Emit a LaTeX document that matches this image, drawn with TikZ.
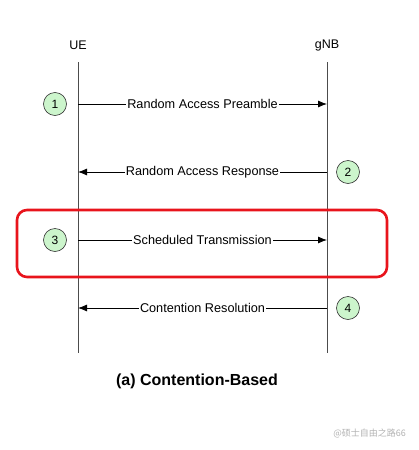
\documentclass[tikz,border=0pt]{standalone}
\usepackage{fontspec}
\setmainfont{Liberation Sans}
\newfontfamily\cjk{Noto Sans CJK SC}
\usetikzlibrary{arrows.meta}
\definecolor{stepgreen}{HTML}{CCF5CC}
\definecolor{boxred}{HTML}{E8141C}
\tikzset{
  lifeline/.style={draw=black!70, line width=0.9pt},
  actor/.style={font=\fontsize{12.5}{14}\selectfont, inner sep=0pt},
  msg/.style={draw=black, line width=0.8pt, -{Latex[length=9pt,width=7pt]}},
  msglabel/.style={fill=white, inner sep=1pt, font=\fontsize{12.7}{14}\selectfont},
  stepnum/.style={circle, draw=black!80, line width=0.6pt, fill=stepgreen, minimum size=23pt, inner sep=0pt, font=\fontsize{12}{14}\selectfont},
}
\begin{document}
\begin{tikzpicture}[x=1pt,y=-1pt]
\useasboundingbox (0,0) rectangle (418,450);
% actors
\node[actor] (ue) at (78,45) {UE};
\node[actor] (gnb) at (327,45) {gNB};
\coordinate (ueTop) at (78,62);
\coordinate (ueBot) at (78,353);
\coordinate (gnbTop) at (327,62);
\coordinate (gnbBot) at (327,353);
\draw[lifeline] (ueTop) -- (ueBot);
\draw[lifeline] (gnbTop) -- (gnbBot);
% message endpoints
\coordinate (u1) at (78,104); \coordinate (g1) at (327,104);
\coordinate (u2) at (78,172); \coordinate (g2) at (327,172);
\coordinate (u3) at (78,240); \coordinate (g3) at (327,240);
\coordinate (u4) at (78,308); \coordinate (g4) at (327,308);
% red box
\draw[boxred, line width=2.6pt, rounded corners=10pt] (17,210) rectangle (387,277);
% messages
\draw[msg] (u1) -- node[msglabel] {Random Access Preamble} (g1);
\draw[msg] (g2) -- node[msglabel] {Random Access Response} (u2);
\draw[msg] (u3) -- node[msglabel] {Scheduled Transmission} (g3);
\draw[msg] (g4) -- node[msglabel] {Contention Resolution} (u4);
% step numbers
\node[stepnum] (s1) at (55,104) {1};
\node[stepnum] (s2) at (348,172) {2};
\node[stepnum] (s3) at (55,240) {3};
\node[stepnum] (s4) at (348,308) {4};
% caption
\node[font=\fontsize{16}{18}\selectfont\bfseries] (cap) at (197,381) {(a) Contention-Based};
% watermark
\node[anchor=east, text=black!30, font=\cjk\fontsize{9}{10}\selectfont, inner sep=0pt] (wm) at (406,433) {@硕士自由之路66};
\end{tikzpicture}
\end{document}
